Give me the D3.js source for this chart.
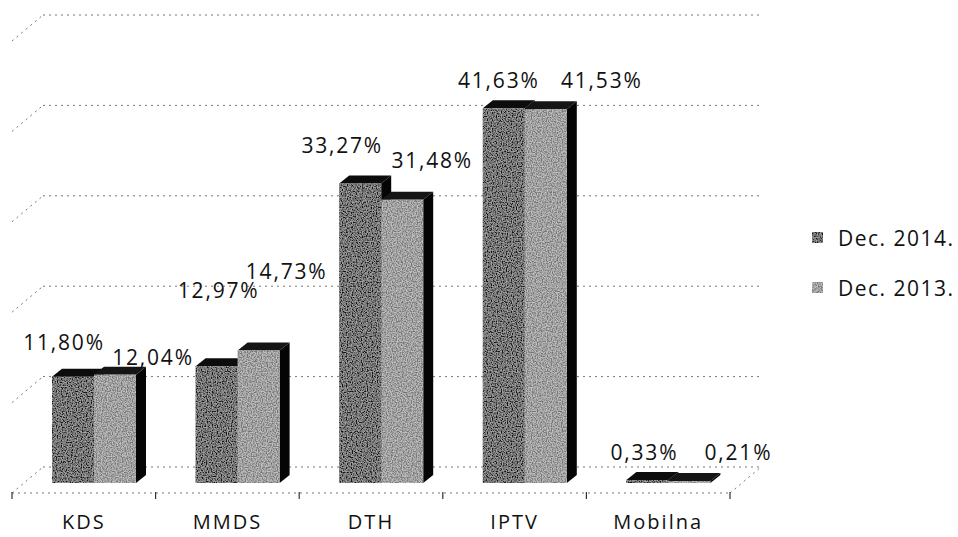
<!DOCTYPE html>
<html>
<head>
<meta charset="utf-8">
<script src="https://cdn.jsdelivr.net/npm/d3@7"></script>
<style>
  html, body { margin: 0; padding: 0; background: #fff; }
  svg { display: block; }
  text { font-family: "Open Sans", "Liberation Sans", sans-serif; fill: #111; }
</style>
</head>
<body>
<svg id="chart" width="958" height="537"></svg>
<script>
// ---- data ----
const categories = ["KDS", "MMDS", "DTH", "IPTV", "Mobilna"];
const seriesNames = ["Dec. 2014.", "Dec. 2013."];
const values2014 = [11.80, 12.97, 33.27, 41.63, 0.33];
const values2013 = [12.04, 14.73, 31.48, 41.53, 0.21];
const gridValues = [0, 10, 20, 30, 40, 50];

// ---- layout (manual label placement as in the original) ----
const labelNudge2014 = [[-9, -27], [2, -68], [-18, -31], [-5, -20], [-3, -20]];
const labelNudge2013 = [[38, -10], [28, -71], [30, -32], [56, -21], [49, -21]];

const series = [
  { name: seriesNames[0], values: values2014, nudge: labelNudge2014, front: "#242424", top: "#0c0c0c", side: "#050505" },
  { name: seriesNames[1], values: values2013, nudge: labelNudge2013, front: "#909090", top: "#151515", side: "#050505" }
];

const locale = d3.formatLocale({ decimal: ",", thousands: ".", grouping: [3], currency: ["", ""] });
const fmt = v => locale.format(".2f")(v) + "%";

const svg = d3.select("#chart");

// speckle texture to mimic the scanned look
const defs = svg.append("defs");
const f = defs.append("filter").attr("id", "grain").attr("x", 0).attr("y", 0).attr("width", 1).attr("height", 1);
f.append("feTurbulence").attr("type", "fractalNoise").attr("baseFrequency", 0.8).attr("numOctaves", 1).attr("seed", 3).attr("result", "n");
f.append("feColorMatrix").attr("in", "n").attr("type", "matrix")
  .attr("values", "3 0 0 0 -1  3 0 0 0 -1  3 0 0 0 -1  0 0 0 0 0.35").attr("result", "g");
f.append("feComposite").attr("in", "g").attr("in2", "SourceGraphic").attr("operator", "in").attr("result", "gm");
const m = f.append("feMerge");
m.append("feMergeNode").attr("in", "SourceGraphic");
m.append("feMergeNode").attr("in", "gm");

// ---- scales ----
const floorFront = 493;            // front edge of floor
const depthX = 31, depthY = -26;   // back-wall offset
const x = d3.scaleBand().domain(categories).range([12, 730]).paddingInner(0).paddingOuter(0);
const xs = d3.scaleBand().domain(seriesNames).range([40, 124]);
const yBar = d3.scaleLinear().domain([0, 50]).range([483, 33]);
const yBack = d3.scaleLinear().domain([0, 50]).range([floorFront + depthY, 15]);
const barDX = 10, barDY = -8;

const gridStyle = sel => sel.attr("stroke", "#777").attr("stroke-width", 1)
  .attr("stroke-dasharray", "2,4").attr("fill", "none");

// ---- walls / gridlines ----
const x0 = x.range()[0], x1 = x.range()[1];
const grid = svg.append("g");
grid.selectAll("line.back").data(gridValues).join("line")
  .attr("x1", x0 + depthX).attr("x2", x1 + depthX)
  .attr("y1", d => yBack(d)).attr("y2", d => yBack(d)).call(gridStyle);
grid.selectAll("line.side").data(gridValues).join("line")
  .attr("x1", x0).attr("y1", d => yBack(d) - depthY)
  .attr("x2", x0 + depthX).attr("y2", d => yBack(d)).call(gridStyle);
// floor front edge and right edge
grid.append("line").attr("x1", x0).attr("x2", x1).attr("y1", floorFront).attr("y2", floorFront).call(gridStyle);
grid.append("line").attr("x1", x1).attr("y1", floorFront).attr("x2", x1 + depthX).attr("y2", floorFront + depthY).call(gridStyle);
// category ticks
const tickXs = categories.map(c => x(c)).concat([x1]);
grid.selectAll("line.tick").data(tickXs).join("line")
  .attr("x1", d => d).attr("x2", d => d).attr("y1", floorFront - 1).attr("y2", floorFront + 6)
  .attr("stroke", "#333").attr("stroke-width", 1.2);

// ---- bars ----
const bars = svg.append("g");
categories.forEach((cat, i) => {
  series.forEach(s => {
    const v = s.values[i];
    const bx = x(cat) + xs(s.name), bw = xs.bandwidth();
    const yt = yBar(v), yb = yBar(0);
    const g = bars.append("g");
    g.append("path").attr("d",
      `M${bx + bw},${yt} L${bx + bw + barDX},${yt + barDY} L${bx + bw + barDX},${yb + barDY} L${bx + bw},${yb} Z`)
      .attr("fill", s.side);
    g.append("path").attr("d",
      `M${bx},${yt} L${bx + barDX},${yt + barDY} L${bx + bw + barDX},${yt + barDY} L${bx + bw},${yt} Z`)
      .attr("fill", s.top);
    g.append("rect").attr("x", bx).attr("y", yt).attr("width", bw).attr("height", Math.max(0, yb - yt))
      .attr("fill", s.front).attr("filter", "url(#grain)");
  });
});

// ---- data labels ----
const labels = svg.append("g");
categories.forEach((cat, i) => {
  series.forEach(s => {
    const v = s.values[i];
    const cx = x(cat) + xs(s.name) + xs.bandwidth() / 2;
    labels.append("text")
      .attr("x", cx + s.nudge[i][0]).attr("y", yBar(v) + s.nudge[i][1])
      .attr("text-anchor", "middle").attr("font-size", 21).attr("letter-spacing", 1.8)
      .text(fmt(v));
  });
});

// ---- category labels ----
svg.append("g").selectAll("text").data(categories).join("text")
  .attr("x", d => x(d) + x.bandwidth() / 2).attr("y", 529)
  .attr("text-anchor", "middle").attr("font-size", 20).attr("letter-spacing", 2)
  .text(d => d);

// ---- legend ----
const legend = svg.append("g");
series.forEach((s, i) => {
  const ly = 246 + i * 50;
  legend.append("rect").attr("x", 812).attr("y", ly - 14).attr("width", 11).attr("height", 11)
    .attr("fill", s.front).attr("filter", "url(#grain)");
  legend.append("text").attr("x", 838).attr("y", ly).attr("font-size", 21).attr("letter-spacing", 1.5)
    .text(s.name);
});
</script>
</body>
</html>
